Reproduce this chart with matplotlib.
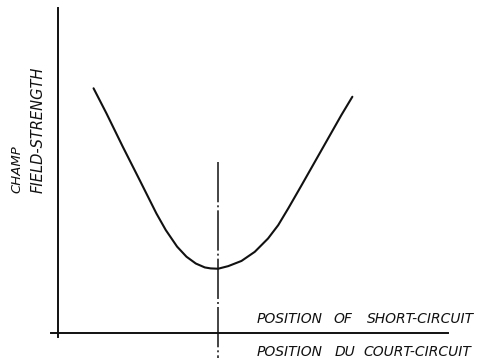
import matplotlib
matplotlib.use("Agg")
import matplotlib.pyplot as plt

W, H = 481, 358

# field strength vs. short-circuit position
position = [0.92, 1.25, 1.67, 2.10, 2.53, 2.77, 3.06, 3.30, 3.54, 3.77, 3.92, 4.11,
            4.37, 4.71, 5.05, 5.39, 5.65, 5.91, 6.25, 6.59, 6.93, 7.27, 7.55]
field = [7.53, 6.76, 5.73, 4.71, 3.68, 3.17, 2.66, 2.35, 2.14, 2.02, 1.99, 1.98,
         2.06, 2.22, 2.50, 2.91, 3.32, 3.84, 4.55, 5.27, 5.99, 6.71, 7.27]

# dash-dot marker through the minimum
min_position = 4.11
marker_top = 5.26
marker_bottom = -0.77

y_words = ["CHAMP", "FIELD-STRENGTH"]
x_words_en = ["POSITION", "OF", "SHORT-CIRCUIT"]
x_words_fr = ["POSITION", "DU", "COURT-CIRCUIT"]

plt.rcParams["lines.scale_dashes"] = False
INK = "#111111"

fig = plt.figure(figsize=(W / 100, H / 100), dpi=100)
ax = fig.add_axes([51 / W, 21 / H, 397 / W, 329 / H])
ax.set_xlim(-0.17, 10)
ax.set_ylim(-0.12, 10)
for side in ("top", "right"):
    ax.spines[side].set_visible(False)
for side in ("left", "bottom"):
    ax.spines[side].set_position(("data", 0))
    ax.spines[side].set_linewidth(1.4)
    ax.spines[side].set_color(INK)
ax.set_xticks([])
ax.set_yticks([])

ax.plot(position, field, color=INK, lw=1.5, solid_joinstyle="round", solid_capstyle="round")
ax.plot([min_position, min_position], [marker_top, marker_bottom], color=INK, lw=1.1,
        dashes=(29, 2.2, 1.4, 2.2), clip_on=False)


def word(x, y, s, size, rotation=0):
    # x, y: start of the baseline, in pixels from the top-left corner
    fig.text(x / W, 1 - y / H, s, fontsize=size, style="italic", color=INK,
             rotation=rotation, rotation_mode="anchor", ha="left", va="baseline")


word(20, 193, y_words[0], 9.5, rotation=90)
word(43, 193, y_words[1], 10.5, rotation=90)

for w, x0 in zip(x_words_en, [257, 333, 367]):
    word(x0, 323, w, 10)
for w, x0 in zip(x_words_fr, [257, 335, 363]):
    word(x0, 356, w, 10)

fig.savefig("out.png", dpi=100)
